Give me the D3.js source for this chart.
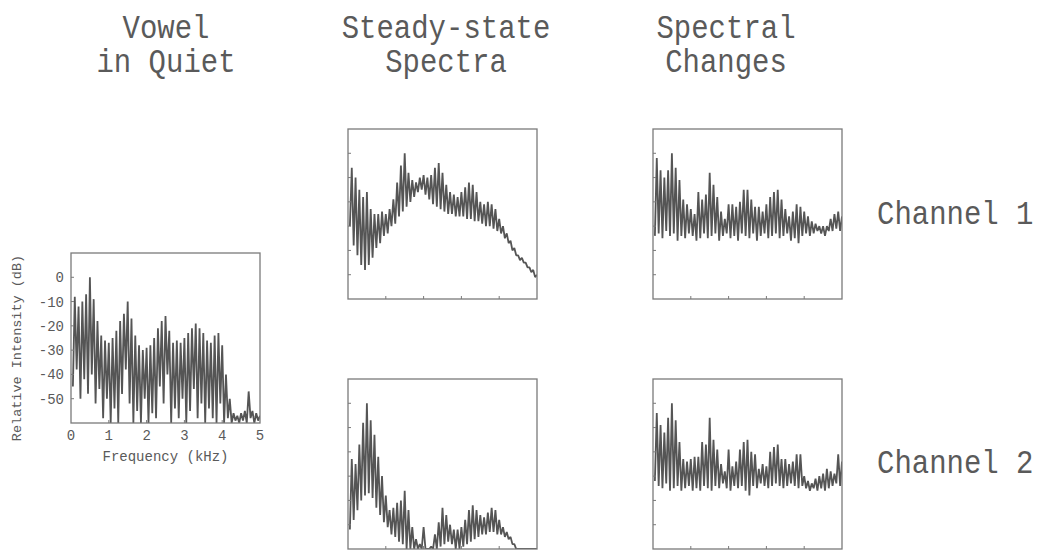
<!DOCTYPE html>
<html>
<head>
<meta charset="utf-8">
<script src="https://cdn.jsdelivr.net/npm/d3@7"></script>
<style>
body { margin: 0; background: #fff; }
text { font-family: "Liberation Mono", "DejaVu Sans Mono", monospace; fill: #5a5a5a; }
</style>
</head>
<body>
<div id="chart"></div>
<script>
// harmonic frequencies (kHz) and the dips between them
const peakKHz = [0.1,0.2,0.3,0.4,0.5,0.6,0.7,0.8,0.9,1.0,1.1,1.2,1.3,1.4,1.5,1.6,1.7,1.8,1.9,2.0,
  2.1,2.2,2.3,2.4,2.5,2.6,2.7,2.8,2.9,3.0,3.1,3.2,3.3,3.4,3.5,3.6,3.7,3.8,3.9,4.0,
  4.1,4.2,4.3,4.4,4.5,4.6,4.7,4.8,4.9,5.0];
const dipKHz = [0.05,0.15,0.25,0.35,0.45,0.55,0.65,0.75,0.85,0.95,1.05,1.15,1.25,1.35,1.45,1.55,1.65,1.75,1.85,1.95,
  2.05,2.15,2.25,2.35,2.45,2.55,2.65,2.75,2.85,2.95,3.05,3.15,3.25,3.35,3.45,3.55,3.65,3.75,3.85,3.95,
  4.05,4.15,4.25,4.35,4.45,4.55,4.65,4.75,4.85,4.95];

// Vowel in quiet (dB)
const quietPeaks = [-8,-12,-10,-7,0,-9,-18,-24,-26,-27,-25,-22,-18,-15,-10,-17,-24,-28,-30,-29,
  -28,-25,-21,-18,-16,-22,-27,-26,-27,-25,-23,-21,-19,-21,-23,-26,-27,-24,-23,-28,
  -40,-50,-56,-57,-56,-55,-47,-55,-56,-57];
const quietDips = [-45,-38,-50,-42,-48,-40,-52,-46,-58,-50,-60,-54,-60,-48,-38,-52,-60,-55,-60,-50,
  -60,-56,-58,-45,-52,-40,-60,-54,-58,-50,-60,-55,-46,-58,-52,-60,-54,-58,-60,-52,
  -60,-58,-60,-59,-60,-59,-60,-58,-60,-59];

// Steady-state spectra, channel 1 and 2
const steady1Peaks = [-6,-10,-15,-18,-16,-23,-25,-25,-24,-25,-23,-19,-12,-5,0,-8,-11,-12,-10,-9,
  -10,-9,-6,-4,-8,-13,-16,-17,-18,-16,-14,-12,-13,-16,-20,-21,-20,-21,-23,-27,
  -30,-33,-36,-39,-42,-43,-45,-47,-48,-50];
const steady1Dips = [-30,-38,-42,-46,-48,-46,-43,-39,-37,-34,-33,-30,-29,-26,-24,-22,-20,-18,-16,-15,
  -17,-19,-21,-22,-23,-24,-25,-25,-26,-26,-26,-27,-27,-28,-28,-29,-30,-30,-31,-32,
  -33,-35,-37,-40,-42,-44,-45,-47,-49,-51];
const steady2Peaks = [-23,-25,-17,-8,0,-7,-13,-22,-30,-38,-44,-43,-41,-40,-36,-44,-51,-56,-58,-51,
  -60,-59,-54,-49,-43,-46,-50,-52,-52,-51,-48,-44,-42,-44,-46,-47,-45,-43,-44,-48,
  -51,-53,-55,-58,-60,-60,-60,-60,-60,-60];
const steady2Dips = [-52,-48,-44,-40,-38,-37,-39,-43,-46,-49,-51,-54,-55,-57,-58,-60,-60,-60,-60,-60,
  -60,-60,-60,-60,-59,-58,-57,-58,-60,-60,-59,-58,-57,-56,-55,-54,-54,-53,-53,-54,
  -54,-55,-56,-58,-60,-60,-60,-60,-60,-60];

// Spectral changes, channel 1 and 2
const change1Peaks = [-2,-7,-10,-7,0,-6,-11,-19,-21,-23,-25,-16,-19,-17,-8,-13,-18,-24,-27,-21,
  -21,-22,-20,-15,-15,-19,-22,-22,-24,-21,-18,-16,-15,-19,-23,-26,-24,-21,-22,-24,
  -26,-28,-29,-30,-30,-30,-27,-25,-24,-26];
const change1Dips = [-34,-33,-35,-32,-34,-33,-36,-34,-35,-33,-34,-36,-35,-33,-35,-34,-33,-36,-34,-33,
  -35,-34,-36,-33,-34,-35,-33,-36,-34,-33,-35,-34,-33,-35,-34,-33,-36,-35,-37,-34,
  -33,-34,-33,-32,-33,-34,-32,-32,-31,-32];
const change2Peaks = [-4,-9,-12,-6,0,-7,-16,-23,-24,-23,-22,-22,-16,-17,-6,-15,-19,-25,-28,-19,
  -26,-24,-19,-16,-15,-20,-21,-27,-25,-26,-20,-18,-17,-23,-23,-25,-24,-21,-21,-30,
  -32,-33,-31,-30,-29,-27,-28,-29,-21,-24];
const change2Dips = [-32,-34,-35,-33,-36,-35,-34,-36,-35,-34,-36,-35,-36,-34,-35,-36,-34,-35,-33,-35,
  -36,-34,-35,-34,-36,-38,-34,-35,-33,-34,-35,-34,-33,-34,-35,-34,-33,-34,-35,-34,
  -35,-36,-35,-36,-35,-36,-35,-34,-33,-34];

const yTicks = [0, -10, -20, -30, -40, -50];
const xTicks = [0, 1, 2, 3, 4, 5];
const titles = [["Vowel", "in Quiet"], ["Steady-state", "Spectra"], ["Spectral", "Changes"]];
const channels = ["Channel 1", "Channel 2"];

const width = 1041, height = 551;
const pw = 189, ph = 170;

const svg = d3.select('#chart').append('svg')
  .attr('width', width).attr('height', height);

const panels = [
  { x: 71, y: 253, peaks: quietPeaks, dips: quietDips, labels: true },
  { x: 348, y: 129, peaks: steady1Peaks, dips: steady1Dips },
  { x: 348, y: 379, peaks: steady2Peaks, dips: steady2Dips },
  { x: 653, y: 129, peaks: change1Peaks, dips: change1Dips },
  { x: 653, y: 379, peaks: change2Peaks, dips: change2Dips },
];

const x = d3.scaleLinear().domain([0, 5]).range([0, pw]);
const y = d3.scaleLinear().domain([-60, 10]).range([ph, 0]);

const line = d3.line().x(d => x(d[0])).y(d => y(d[1]));

panels.forEach((p, i) => {
  const g = svg.append('g').attr('transform', `translate(${p.x},${p.y})`);
  const id = 'clip' + i;
  g.append('clipPath').attr('id', id).append('rect').attr('width', pw).attr('height', ph);

  const pts = [];
  peakKHz.forEach((f, k) => {
    pts.push([dipKHz[k], p.dips[k]]);
    pts.push([f, p.peaks[k]]);
  });
  g.append('path')
    .attr('clip-path', `url(#${id})`)
    .attr('d', line(pts))
    .attr('fill', 'none')
    .attr('stroke', '#555')
    .attr('stroke-width', 1.8)
    .attr('stroke-linejoin', 'bevel');

  g.append('rect').attr('width', pw).attr('height', ph)
    .attr('fill', 'none').attr('stroke', '#7a7a7a').attr('stroke-width', 1.3);

  g.selectAll('.yt').data(yTicks).enter().append('line')
    .attr('x1', 0).attr('x2', 3)
    .attr('y1', d => y(d)).attr('y2', d => y(d))
    .attr('stroke', '#7a7a7a');
  g.selectAll('.xt').data(xTicks.slice(1, 5)).enter().append('line')
    .attr('x1', d => x(d)).attr('x2', d => x(d))
    .attr('y1', ph).attr('y2', ph - 3)
    .attr('stroke', '#7a7a7a');

  if (p.labels) {
    g.selectAll('.yl').data(yTicks).enter().append('text')
      .attr('x', -7).attr('y', d => y(d) + 5)
      .attr('text-anchor', 'end').attr('font-size', 14)
      .text(d => d);
    g.selectAll('.xl').data(xTicks).enter().append('text')
      .attr('x', d => x(d)).attr('y', ph + 17)
      .attr('text-anchor', 'middle').attr('font-size', 14)
      .text(d => d);
    g.append('text').attr('x', pw / 2).attr('y', ph + 38)
      .attr('text-anchor', 'middle').attr('font-size', 14)
      .text('Frequency (kHz)');
    g.append('text')
      .attr('transform', `translate(-50,${ph / 2 + 10}) rotate(-90)`)
      .attr('text-anchor', 'middle').attr('font-size', 13.5)
      .text('Relative Intensity (dB)');
  }
});

// column titles, slightly tall letterforms as in the original print
const titleX = [166, 446, 726];
titles.forEach((t, i) => {
  t.forEach((s, j) => {
    svg.append('text')
      .attr('transform', `translate(${titleX[i]},${38 + j * 34}) scale(1,1.12)`)
      .attr('text-anchor', 'middle').attr('font-size', 29)
      .text(s);
  });
});

channels.forEach((c, i) => {
  svg.append('text')
    .attr('transform', `translate(877,${[224, 473][i]}) scale(1,1.12)`)
    .attr('font-size', 29)
    .text(c);
});
</script>
</body>
</html>
